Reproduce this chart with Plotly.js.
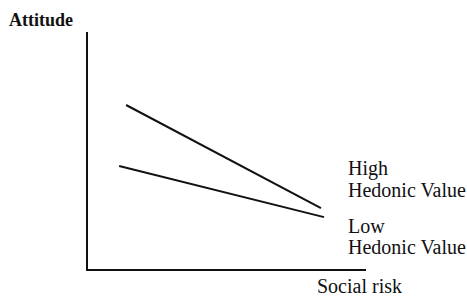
<!DOCTYPE html>
<html>
<head>
<meta charset="utf-8">
<script src="https://cdn.plot.ly/plotly-3.0.1.min.js"></script>
<style>html,body{margin:0;padding:0;background:#fff;}#chart{width:467px;height:296px;}</style>
</head>
<body>
<div id="chart"></div>
<script>
// Data (conceptual chart: social risk vs. attitude)
const seriesNames = ["High Hedonic Value", "Low Hedonic Value"];
const highX = [1.37, 8.38];
const highY = [6.92, 2.57];
const lowX = [1.12, 8.49];
const lowY = [4.35, 2.19];
const labelLines = [["High", "Hedonic Value"], ["Low", "Hedonic Value"]];
const labelX = 9.29;
const labelY = [[4.22, 3.33], [1.81, 0.93]];
const yTitle = "Attitude";
const xTitle = "Social risk";

const fontFamily = "Liberation Serif";
const lineStyle = {color: "#111", width: 2};

const traces = [
  {x: highX, y: highY, mode: "lines", name: seriesNames[0], line: lineStyle, hoverinfo: "skip"},
  {x: lowX, y: lowY, mode: "lines", name: seriesNames[1], line: lineStyle, hoverinfo: "skip"}
];

const annotations = [];
labelLines.forEach((lines, i) => {
  lines.forEach((t, j) => {
    annotations.push({
      text: t, x: labelX, y: labelY[i][j], xref: "x", yref: "y",
      xanchor: "left", yanchor: "middle", showarrow: false,
      font: {family: fontFamily, size: 20, color: "#111"}
    });
  });
});
annotations.push({
  text: "<b>" + yTitle + "</b>", x: -0.293, y: 1.05, xref: "paper", yref: "paper",
  xanchor: "left", yanchor: "middle", showarrow: false,
  font: {family: fontFamily, size: 18, color: "#111"}
});
annotations.push({
  text: xTitle, x: 0.815, y: -0.072, xref: "paper", yref: "paper",
  xanchor: "left", yanchor: "middle", showarrow: false,
  font: {family: fontFamily, size: 20, color: "#111"}
});

const layout = {
  width: 467, height: 296,
  margin: {l: 88, r: 101, t: 32, b: 27, pad: 0},
  paper_bgcolor: "#fff", plot_bgcolor: "#fff",
  showlegend: false,
  font: {family: fontFamily},
  xaxis: {range: [0, 10], showline: true, linecolor: "#111", linewidth: 2, showgrid: false,
          zeroline: false, showticklabels: false, ticks: ""},
  yaxis: {range: [0, 10], showline: true, linecolor: "#111", linewidth: 2, showgrid: false,
          zeroline: false, showticklabels: false, ticks: ""},
  annotations: annotations
};

Plotly.newPlot("chart", traces, layout, {staticPlot: true, displayModeBar: false});
</script>
</body>
</html>
